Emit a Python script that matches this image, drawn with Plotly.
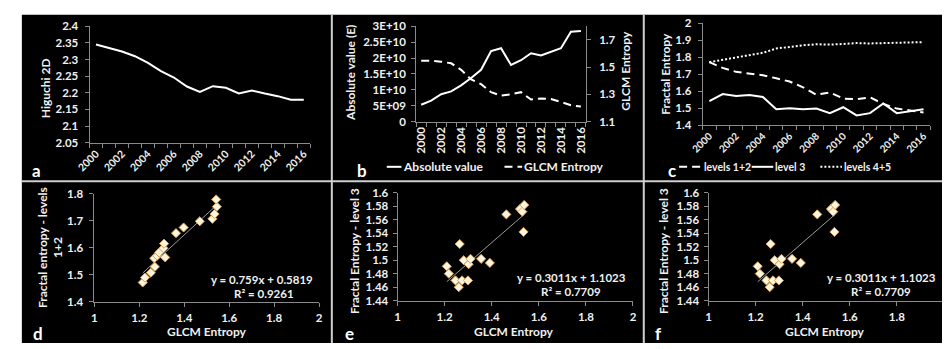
import numpy as np
import plotly.graph_objects as go

W, H = 946, 349

years = list(range(2000, 2017))
higuchi = [2.345, 2.335, 2.324, 2.310, 2.290, 2.265, 2.246, 2.219, 2.203, 2.220, 2.215, 2.198, 2.207, 2.198, 2.190, 2.179, 2.179]
absolute_value = [5.3e9, 6.6e9, 8.6e9, 9.5e9, 1.14e10, 1.37e10, 1.63e10, 2.22e10, 2.31e10, 1.78e10, 1.93e10, 2.15e10, 2.08e10, 2.19e10, 2.31e10, 2.83e10, 2.85e10]
glcm_entropy = [1.547, 1.547, 1.540, 1.528, 1.480, 1.410, 1.375, 1.316, 1.290, 1.300, 1.316, 1.262, 1.270, 1.265, 1.244, 1.220, 1.210]
fe_levels12 = [1.772, 1.738, 1.715, 1.706, 1.695, 1.677, 1.658, 1.624, 1.580, 1.594, 1.558, 1.554, 1.565, 1.526, 1.499, 1.488, 1.476]
fe_level3 = [1.543, 1.584, 1.573, 1.579, 1.567, 1.495, 1.501, 1.495, 1.499, 1.472, 1.507, 1.459, 1.472, 1.529, 1.472, 1.482, 1.495]
fe_levels45 = [1.772, 1.785, 1.800, 1.810, 1.827, 1.852, 1.863, 1.871, 1.877, 1.875, 1.879, 1.884, 1.882, 1.884, 1.888, 1.890, 1.890]

d_x = [1.215, 1.225, 1.251, 1.269, 1.266, 1.279, 1.288, 1.307, 1.310, 1.315, 1.363, 1.397, 1.469, 1.525, 1.535, 1.545, 1.542]
d_y = [1.471, 1.489, 1.507, 1.529, 1.561, 1.570, 1.582, 1.598, 1.615, 1.564, 1.654, 1.675, 1.698, 1.707, 1.725, 1.752, 1.779]
e_x = [1.209, 1.218, 1.246, 1.260, 1.264, 1.274, 1.281, 1.299, 1.302, 1.310, 1.355, 1.392, 1.462, 1.520, 1.530, 1.538, 1.535]
e_y = [1.491, 1.480, 1.470, 1.460, 1.524, 1.470, 1.500, 1.470, 1.494, 1.502, 1.502, 1.496, 1.568, 1.576, 1.572, 1.582, 1.542]

abs_ticks = [0, 5e9, 1e10, 1.5e10, 2e10, 2.5e10, 3e10]
abs_ticktext = ["0", "5E+09", "1E+10", "1.5E+10", "2E+10", "2.5E+10", "3E+10"]
year_labels = [y for y in years if y % 2 == 0]

FONT = "Lato"
TXT = "#f0f0f0"
AX = "#8a8a8a"
DASH = "8px,5px"
DOT = "2px,2px"

def px(x):
    return x / W

def py(y):
    return 1 - y / H

def xdom(a, b):
    return [px(a), px(b)]

def ydom(top, bot):
    return [py(bot), py(top)]

fig = go.Figure()

line_w = 2
fig.add_trace(go.Scatter(x=years, y=higuchi, mode="lines", line=dict(color="white", width=line_w),
                         xaxis="x", yaxis="y", name="Higuchi 2D"))
fig.add_trace(go.Scatter(x=years, y=absolute_value, mode="lines", name="Absolute value",
                         line=dict(color="white", width=line_w), xaxis="x2", yaxis="y2"))
fig.add_trace(go.Scatter(x=years, y=glcm_entropy, mode="lines", name="GLCM Entropy",
                         line=dict(color="white", width=line_w, dash=DASH), xaxis="x2", yaxis="y3"))
fig.add_trace(go.Scatter(x=years, y=fe_levels12, mode="lines", name="levels 1+2",
                         line=dict(color="white", width=line_w, dash=DASH), xaxis="x3", yaxis="y4"))
fig.add_trace(go.Scatter(x=years, y=fe_level3, mode="lines", name="level 3",
                         line=dict(color="white", width=line_w), xaxis="x3", yaxis="y4"))
fig.add_trace(go.Scatter(x=years, y=fe_levels45, mode="lines", name="levels 4+5",
                         line=dict(color="white", width=line_w, dash=DOT), xaxis="x3", yaxis="y4"))

marker = dict(symbol="diamond", size=7, color="#fff6e0", line=dict(color="#d9a050", width=1))

def add_scatter(xs, ys, xa, ya):
    xs = np.array(xs); ys = np.array(ys)
    k, b = np.polyfit(xs, ys, 1)
    lx = np.array([xs.min(), xs.max()])
    fig.add_trace(go.Scatter(x=lx, y=k * lx + b, mode="lines", line=dict(color="#9a9a9a", width=1),
                             xaxis=xa, yaxis=ya))
    fig.add_trace(go.Scatter(x=xs, y=ys, mode="markers", marker=marker, xaxis=xa, yaxis=ya))

add_scatter(d_x, d_y, "x4", "y5")
add_scatter(e_x, e_y, "x5", "y6")
add_scatter(e_x, e_y, "x6", "y7")

tickfont = dict(family=FONT, size=11.5, color=TXT, weight="bold")
yearfont = dict(family=FONT, size=10.5, color=TXT, weight="bold")
yearfont_c = dict(family=FONT, size=10, color=TXT, weight="bold")

def year_axis(dom, anchor, angle, font):
    return dict(domain=dom, anchor=anchor, range=[1999.5, 2016.5], tickmode="array",
                tickvals=year_labels, ticktext=[str(y) for y in year_labels], ticks="",
                tickangle=angle, showline=True, linecolor=AX, linewidth=1, showgrid=False, zeroline=False,
                tickfont=font,
                minor=dict(tick0=1999.5, dtick=1, ticks="outside", ticklen=4, tickcolor=AX, showgrid=False))

def val_axis(dom, anchor, rng, dtick, tick0=None, side="left", standoff=4):
    d = dict(domain=dom, anchor=anchor, range=rng, dtick=dtick, ticks="outside", ticklen=4, tickcolor=AX,
             showline=True, linecolor=AX, linewidth=1, showgrid=False, zeroline=False, tickfont=tickfont,
             side=side, ticklabelstandoff=standoff)
    if tick0 is not None:
        d["tick0"] = tick0
    return d

shapes = [
    dict(type="rect", xref="paper", yref="paper", x0=px(8), x1=1, y0=0, y1=py(8),
         fillcolor="black", line=dict(width=0), layer="below"),
    dict(type="line", xref="paper", yref="paper", x0=px(8), x1=1, y0=py(181), y1=py(181),
         line=dict(color="#cfcfcf", width=2), layer="above"),
    dict(type="line", xref="paper", yref="paper", x0=px(324), x1=px(324), y0=0, y1=py(8),
         line=dict(color="#cfcfcf", width=2), layer="above"),
    dict(type="line", xref="paper", yref="paper", x0=px(642), x1=px(642), y0=0, y1=py(8),
         line=dict(color="#cfcfcf", width=2), layer="above"),
]

titlefont = dict(family=FONT, size=12, color=TXT, weight="bold")
legfont_b = dict(family=FONT, size=12, color=TXT, weight="bold")
legfont_c = dict(family=FONT, size=10.5, color=TXT, weight="bold")
ann = []

def add_text(text, x, y, angle=0, font=titlefont, xanchor="center"):
    ann.append(dict(text=text, x=px(x), y=py(y), xref="paper", yref="paper", showarrow=False,
                    textangle=angle, font=font, xanchor=xanchor, yanchor="middle"))

# legend keys (drawn as legend entries below panels b and c)
def legend_entry(label, x0, x1, ty, font, dash=None):
    shapes.append(dict(type="line", xref="paper", yref="paper", x0=px(x0), x1=px(x1), y0=py(ty), y1=py(ty),
                       line=dict(color="white", width=2, dash=dash) if dash else dict(color="white", width=2)))
    ann.append(dict(text=label, x=px(x1), y=py(ty), xref="paper", yref="paper", showarrow=False,
                    font=font, xanchor="left", yanchor="middle", xshift=0))

legend_entry("Absolute value", 380, 395, 166, legfont_b)
legend_entry("GLCM Entropy", 500, 518, 166, legfont_b, DASH)
legend_entry("levels 1+2", 678, 701, 166, legfont_c, DASH)
legend_entry("level 3", 752, 774, 166, legfont_c)
legend_entry("levels 4+5", 822, 844, 166, legfont_c, DOT)

layout = dict(
    width=W, height=H, margin=dict(l=0, r=0, t=0, b=0), showlegend=False,
    paper_bgcolor="white", plot_bgcolor="rgba(0,0,0,0)",
    font=dict(family=FONT, color=TXT),
    xaxis=year_axis(xdom(77, 302), "y", -45, yearfont),
    yaxis=val_axis(ydom(20, 141), "x", [2.05, 2.4], 0.05, 2.05),
    xaxis2=year_axis(xdom(410, 583), "y2", -90, tickfont),
    yaxis2=dict(val_axis(ydom(20, 119), "x2", [0, 3e10], None, standoff=3), tickmode="array",
                tickvals=abs_ticks, ticktext=abs_ticktext),
    yaxis3=dict(val_axis(ydom(20, 119), "x2", [1.1, 1.8], 0.2, 1.1, side="right", standoff=6), overlaying="y2"),
    xaxis3=year_axis(xdom(702, 934), "y4", -45, yearfont_c),
    yaxis4=val_axis(ydom(17, 123), "x3", [1.4, 2.0], 0.1, 1.4),
    xaxis4=val_axis(xdom(82, 311), "y5", [1, 2], 0.2, 1, side="bottom", standoff=2),
    yaxis5=val_axis(ydom(194, 306), "x4", [1.4, 1.8], 0.1, 1.4),
    xaxis5=val_axis(xdom(391, 631), "y6", [1, 2], 0.2, 1, side="bottom", standoff=2),
    yaxis6=val_axis(ydom(193, 305), "x5", [1.44, 1.6], 0.02, 1.44, standoff=2),
    xaxis6=val_axis(xdom(708, 946), "y7", [1, 1.992], 0.2, 1, side="bottom", standoff=2),
    yaxis7=val_axis(ydom(193, 305), "x6", [1.44, 1.6], 0.02, 1.44, standoff=2),
    shapes=shapes,
)

add_text("Higuchi 2D", 32, 84, -90)
add_text("Absolute value (E)", 343, 68, -90)
add_text("GLCM Entropy", 623, 66, -90)
add_text("Fractal Entropy", 664, 69, -90)
add_text("Fractal entropy - levels<br>1+2", 37, 250, -90)
add_text("Fractal Entropy - level 3", 347, 253, -90)
add_text("Fractal Entropy - level 3", 662, 253, -90)
add_text("GLCM Entropy", 197, 337)
add_text("GLCM Entropy", 510, 337)
add_text("GLCM Entropy", 827, 337)

eqfont = dict(family=FONT, size=11.5, color=TXT, weight="bold")
add_text("y = 0.759x + 0.5819", 253, 283, font=eqfont)
add_text("R² = 0.9261", 255, 298, font=eqfont)
add_text("y = 0.3011x + 1.1023", 568, 281, font=eqfont)
add_text("R² = 0.7709", 568, 295, font=eqfont)
add_text("y = 0.3011x + 1.1023", 884, 281, font=eqfont)
add_text("R² = 0.7709", 884, 295, font=eqfont)

letterfont = dict(family=FONT, size=17, color="white", weight="bold")
for t, x, y in [("a", 23, 170), ("b", 355, 170), ("c", 671, 170), ("d", 24, 339), ("e", 342, 339), ("f", 657, 339)]:
    add_text(t, x, y, font=letterfont)

layout["annotations"] = ann
fig.update_layout(**layout)
fig.write_html("out.html", config={"displayModeBar": False},
               post_script="document.documentElement.style.overflow='hidden';"
                           "document.body.style.margin='0';document.body.style.overflow='hidden';")
